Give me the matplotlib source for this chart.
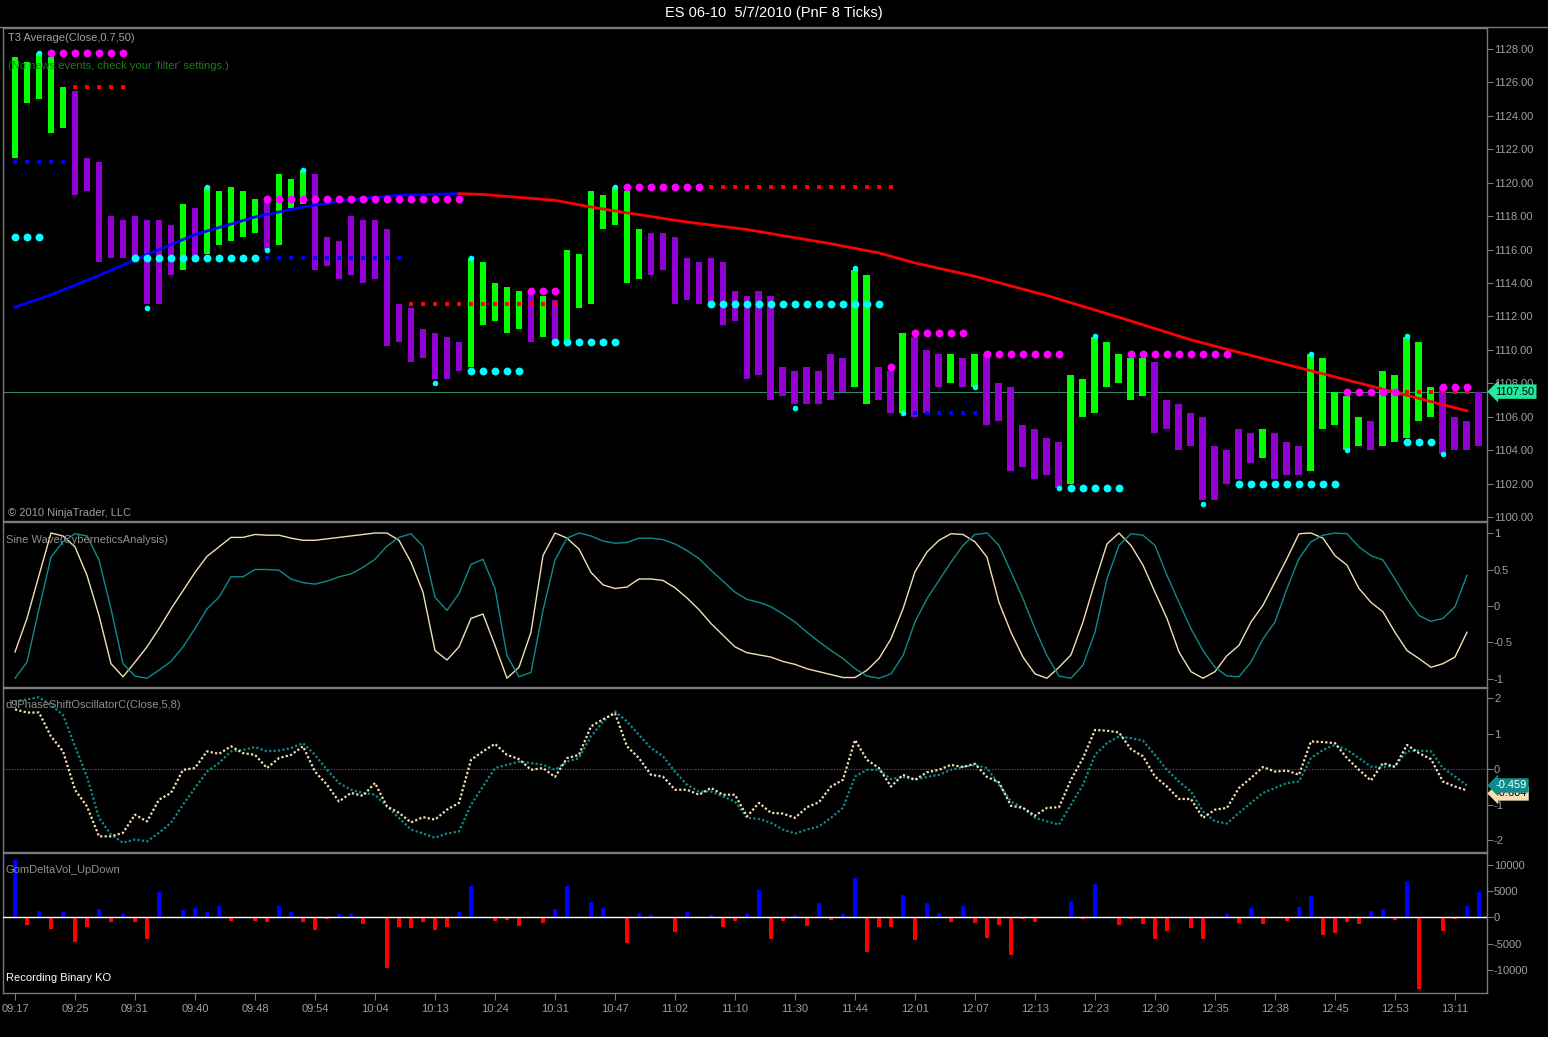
import matplotlib.pyplot as plt
import numpy as np

plt.rcParams['font.family'] = ['Liberation Sans', 'DejaVu Sans']

# ---- данные: PnF колонки (верх / низ, цвет) ----
bar_high = [1127.5, 1127.25, 1127.75, 1127.5, 1125.75, 1125.5, 1121.5, 1121.25, 1118.0, 1117.75,
            1118.0, 1117.75, 1117.75, 1117.5, 1118.75, 1118.5, 1119.75, 1119.5, 1119.75, 1119.5,
            1119.0, 1119.0, 1120.5, 1120.25, 1120.75, 1120.5, 1116.75, 1116.5, 1118.0, 1117.75,
            1117.75, 1117.25, 1112.75, 1112.5, 1111.25, 1111.0, 1110.75, 1110.5, 1115.5, 1115.25,
            1114.0, 1113.75, 1113.5, 1113.5, 1113.25, 1113.0, 1116.0, 1115.75, 1119.5, 1119.25,
            1119.75, 1119.5, 1117.25, 1117.0, 1117.0, 1116.75, 1115.5, 1115.25, 1115.5, 1115.25,
            1113.5, 1113.25, 1113.5, 1113.25, 1109.0, 1108.75, 1109.0, 1108.75, 1109.75, 1109.5,
            1114.75, 1114.5, 1109.0, 1108.75, 1111.0, 1110.75, 1110.0, 1109.75, 1109.75, 1109.5,
            1109.75, 1109.75, 1108.0, 1107.75, 1105.5, 1105.25, 1104.75, 1104.5, 1108.5, 1108.25,
            1110.75, 1110.5, 1109.75, 1109.5, 1109.5, 1109.25, 1107.0, 1106.75, 1106.25, 1106.0,
            1104.25, 1104.0, 1105.25, 1105.0, 1105.25, 1105.0, 1104.5, 1104.25, 1109.75, 1109.5,
            1107.5, 1107.25, 1106.0, 1105.75, 1108.75, 1108.5, 1110.75, 1110.5, 1107.75, 1107.75,
            1106.0, 1105.75, 1107.5]
bar_low = [1121.5, 1124.75, 1125.0, 1123.0, 1123.25, 1119.25, 1119.5, 1115.25, 1115.5, 1115.5,
           1115.5, 1112.75, 1112.75, 1114.5, 1114.75, 1115.25, 1115.75, 1116.25, 1116.5, 1116.75,
           1117.0, 1116.0, 1116.25, 1118.5, 1118.75, 1114.75, 1115.0, 1114.25, 1114.5, 1114.0,
           1114.25, 1110.25, 1110.5, 1109.25, 1109.5, 1108.25, 1108.25, 1108.75, 1109.0, 1111.5,
           1111.75, 1111.0, 1111.25, 1110.5, 1110.75, 1110.5, 1110.5, 1112.5, 1112.75, 1117.25,
           1117.5, 1114.0, 1114.25, 1114.5, 1114.75, 1112.75, 1113.0, 1112.75, 1112.75, 1111.5,
           1111.75, 1108.25, 1108.5, 1107.0, 1107.25, 1106.75, 1106.75, 1106.75, 1107.0, 1107.5,
           1107.75, 1106.75, 1107.0, 1106.25, 1106.25, 1106.0, 1106.25, 1107.75, 1108.0, 1107.75,
           1107.75, 1105.5, 1105.75, 1102.75, 1103.0, 1102.25, 1102.5, 1101.75, 1102.0, 1106.0,
           1106.25, 1107.75, 1108.0, 1107.0, 1107.25, 1105.0, 1105.25, 1104.0, 1104.25, 1101.0,
           1101.0, 1102.0, 1102.25, 1103.25, 1103.5, 1102.25, 1102.5, 1102.5, 1102.75, 1105.25,
           1105.5, 1104.0, 1104.25, 1104.0, 1104.25, 1104.5, 1104.75, 1105.75, 1106.0, 1103.75,
           1104.0, 1104.0, 1104.25]
# G = рост (зелёный), P = падение (фиолетовый)
bar_dir = ("GGGGG" "PPPPPPPPP" "G" "P" "GGGGG" "P" "GGG" "PPPPPPPPPPPPP" "GGGGG" "P" "G" "P"
           "GGGGGGG" "PPPPPPPPPPPPPPPPP" "GG" "PP" "G" "PPP" "G" "P" "G" "PPPPPPP" "GGGGGGG"
           "PPPPPPPPP" "G" "PPP" "GGGGG" "P" "GGGGG" "PPPP")
last_price = 1107.5

# T3 Average: точки (номер колонки, значение)
t3_blue_bar = [0, 3, 7, 11, 15, 20, 24, 28, 32, 37]
t3_blue_val = [1112.55, 1113.3, 1114.45, 1115.7, 1116.9, 1117.95, 1118.55, 1119.0, 1119.25, 1119.35]
t3_red_bar = [37, 39, 45, 48, 51, 56, 61, 68, 72, 75, 80, 86, 92, 98, 102, 108, 114, 121]
t3_red_val = [1119.35, 1119.3, 1118.95, 1118.55, 1118.2, 1117.65, 1117.2, 1116.35, 1115.8, 1115.2,
              1114.4, 1113.25, 1111.95, 1110.6, 1109.85, 1108.75, 1107.65, 1106.35]

# уровни точек (первая колонка, последняя колонка, цена)
magenta_levels = [(3, 9, 1127.75), (21, 37, 1119.0), (43, 45, 1113.5), (51, 57, 1119.75), (73, 73, 1109.0),
                  (75, 79, 1111.0), (81, 87, 1109.75), (93, 101, 1109.75), (111, 115, 1107.5), (119, 121, 1107.75)]
cyan_levels = [(0, 2, 1116.75), (10, 20, 1115.5), (38, 42, 1108.75), (45, 50, 1110.5), (58, 72, 1112.75),
               (88, 92, 1101.75), (102, 110, 1102.0), (116, 118, 1104.5)]
red_dotted = [(5, 9, 1125.75), (33, 45, 1112.75), (58, 73, 1119.75), (116, 121, 1107.5)]
blue_dotted = [(0, 4, 1121.25), (21, 32, 1115.5), (75, 80, 1106.25)]
small_cyan_bar = [2, 11, 16, 21, 24, 35, 38, 50, 65, 70, 74, 80, 87, 90, 99, 108, 111, 116, 119]
small_cyan_val = [1127.75, 1112.5, 1119.75, 1116.0, 1120.75, 1108.0, 1115.5, 1119.75, 1106.5, 1114.9,
                  1106.25, 1107.75, 1101.75, 1110.85, 1100.75, 1109.75, 1104.0, 1110.85, 1103.75]

# Sine Wave
sine = [-0.63, -0.17, 0.42, 1.0, 0.96, 0.81, 0.42, -0.13, -0.79, -0.97,
        -0.77, -0.56, -0.31, -0.04, 0.21, 0.46, 0.68, 0.81, 0.94, 0.94,
        0.98, 0.97, 0.97, 0.93, 0.90, 0.90, 0.92, 0.94, 0.96, 0.98,
        1.0, 1.0, 0.90, 0.60, 0.19, -0.61, -0.74, -0.56, -0.17, -0.11,
        -0.54, -0.99, -0.84, -0.36, 0.69, 1.0, 0.93, 0.78, 0.46, 0.29,
        0.24, 0.26, 0.37, 0.37, 0.35, 0.25, 0.11, -0.05, -0.24, -0.40,
        -0.56, -0.64, -0.67, -0.70, -0.76, -0.80, -0.86, -0.90, -0.94, -0.98,
        -0.98, -0.88, -0.72, -0.45, -0.04, 0.47, 0.74, 0.90, 0.99, 0.98,
        0.88, 0.67, 0.05, -0.36, -0.70, -0.93, -0.99, -0.84, -0.67, -0.22,
        0.33, 0.85, 1.0, 0.83, 0.56, 0.19, -0.17, -0.63, -0.90, -0.99,
        -0.90, -0.68, -0.54, -0.22, 0.01, 0.33, 0.65, 0.99, 1.0, 0.93,
        0.69, 0.56, 0.24, 0.05, -0.08, -0.36, -0.61, -0.72, -0.84, -0.79,
        -0.70, -0.36]
lead_sine = [-0.99, -0.77, -0.04, 0.67, 0.88, 0.99, 0.96, 0.63, -0.04, -0.79,
             -0.96, -0.99, -0.88, -0.76, -0.56, -0.31, -0.04, 0.12, 0.40, 0.40,
             0.50, 0.50, 0.49, 0.37, 0.32, 0.30, 0.34, 0.40, 0.44, 0.53,
             0.64, 0.82, 0.94, 0.99, 0.82, 0.12, -0.06, 0.17, 0.57, 0.64,
             0.24, -0.68, -0.97, -0.91, -0.06, 0.63, 0.93, 1.0, 0.96, 0.89,
             0.86, 0.87, 0.93, 0.93, 0.91, 0.85, 0.76, 0.65, 0.49, 0.34,
             0.19, 0.09, 0.05, -0.01, -0.11, -0.22, -0.36, -0.49, -0.61, -0.72,
             -0.86, -0.96, -0.99, -0.93, -0.68, -0.22, 0.10, 0.35, 0.60, 0.83,
             0.98, 1.0, 0.83, 0.47, 0.10, -0.31, -0.68, -0.96, -0.99, -0.81,
             -0.36, 0.37, 0.83, 0.99, 0.97, 0.83, 0.42, 0.05, -0.31, -0.61,
             -0.84, -0.96, -0.97, -0.77, -0.45, -0.22, 0.24, 0.65, 0.88, 0.97,
             1.0, 0.99, 0.81, 0.69, 0.63, 0.37, 0.10, -0.13, -0.21, -0.17,
             -0.01, 0.42]

# d9PhaseShiftOscillator
phase_fast = [1.68, 1.59, 1.59, 0.92, 0.50, -0.58, -1.05, -1.89, -1.89, -1.79,
              -1.28, -1.47, -0.86, -0.67, -0.02, 0.03, 0.50, 0.43, 0.64, 0.45,
              0.40, 0.03, 0.31, 0.40, 0.64, -0.07, -0.44, -0.91, -0.67, -0.75,
              -0.39, -1.05, -1.23, -1.50, -1.35, -1.42, -1.14, -0.95, 0.26, 0.50,
              0.71, 0.40, 0.28, -0.02, 0.03, -0.22, 0.31, 0.40, 1.20, 1.40,
              1.57, 0.64, 0.31, -0.16, -0.21, -0.58, -0.58, -0.72, -0.53, -0.72,
              -0.72, -1.33, -0.95, -1.23, -1.25, -1.37, -1.07, -0.93, -0.49, -0.30,
              0.82, 0.26, 0.03, -0.49, -0.16, -0.30, -0.09, -0.02, 0.12, 0.06,
              0.15, -0.22, -0.37, -1.03, -1.09, -1.31, -1.09, -1.07, -0.30, 0.31,
              1.10, 1.08, 1.03, 0.56, 0.36, -0.21, -0.49, -0.84, -0.84, -1.37,
              -1.14, -1.09, -0.53, -0.25, 0.06, -0.07, -0.04, -0.16, 0.78, 0.76,
              0.73, 0.31, -0.02, -0.32, 0.17, 0.06, 0.68, 0.45, 0.28, -0.35,
              -0.49, -0.60]
phase_slow = [1.90, 1.96, 2.02, 1.80, 1.52, 0.64, -0.21, -1.37, -1.84, -2.07,
              -1.98, -2.03, -1.79, -1.51, -1.00, -0.53, -0.07, 0.17, 0.50, 0.54,
              0.62, 0.50, 0.52, 0.59, 0.73, 0.40, -0.02, -0.39, -0.58, -0.67,
              -0.72, -1.05, -1.37, -1.70, -1.81, -1.93, -1.81, -1.75, -1.00, -0.49,
              0.03, 0.12, 0.21, 0.17, 0.12, -0.02, 0.21, 0.31, 0.92, 1.34,
              1.62, 1.34, 0.96, 0.59, 0.36, -0.07, -0.44, -0.63, -0.63, -0.77,
              -0.91, -1.37, -1.40, -1.51, -1.70, -1.81, -1.70, -1.61, -1.37, -1.09,
              -0.21, -0.02, -0.02, -0.28, -0.22, -0.30, -0.22, -0.16, -0.02, 0.06,
              0.12, 0.03, -0.44, -0.91, -1.09, -1.37, -1.47, -1.56, -1.00, -0.44,
              0.40, 0.73, 0.92, 0.87, 0.80, 0.40, -0.02, -0.35, -0.63, -1.19,
              -1.47, -1.53, -1.23, -0.95, -0.67, -0.53, -0.39, -0.35, 0.31, 0.54,
              0.68, 0.54, 0.31, 0.07, 0.06, 0.09, 0.50, 0.52, 0.50, 0.03,
              -0.21, -0.46]
phase_fast_label = "-0.604"
phase_slow_label = "-0.459"

# GomDeltaVol_UpDown
delta = [10800, -1460, 1200, -2200, 1080, -4620, -1840, 1520, -820, 570,
         -820, -4110, 4870, -190, 1390, 1840, 950, 2150, -700, 0,
         -700, -820, 2220, 950, -820, -2400, -320, 570, 890, -1200,
         -100, -9560, -1770, -2090, -820, -2400, -1770, 1080, 5950, -190,
         -700, -440, -1580, 0, -1080, 1520, 5950, 0, 2980, 1840,
         -190, -4810, 890, 440, -100, -2720, 1010, 0, 440, -1770,
         -630, 630, 5190, -4110, -700, 440, -1650, 2790, -440, 630,
         7530, -6520, -1840, -1840, 4240, -4300, 2790, 890, -820, 2220,
         -1080, -3860, -1460, -7150, -320, -820, 0, 0, 3170, -320,
         6270, 100, -1460, -320, -1270, -4110, -2600, 0, -2090, -4110,
         0, 630, -1080, 1710, -1200, -190, -630, 2030, 4110, -3360,
         -2910, -820, -1200, 1200, 1520, -510, 6650, -13600, 0, -2600,
         -320, 2220, 4750]

time_labels = ["09:17", "09:25", "09:31", "09:40", "09:48", "09:54", "10:04", "10:13", "10:24",
               "10:31", "10:47", "11:02", "11:10", "11:30", "11:44", "12:01", "12:07", "12:13",
               "12:23", "12:30", "12:35", "12:38", "12:45", "12:53", "13:11"]

W, H = 1548, 1037
GRID = '#7a7a7a'
TXT = '#a0a0a0'

fig = plt.figure(figsize=(W / 100, H / 100), dpi=100, facecolor='black')


def panel(top, bottom):
    ax = fig.add_axes([3 / W, 1 - bottom / H, 1484 / W, (bottom - top) / H])
    ax.set_facecolor('black')
    for s in ax.spines.values():
        s.set_color(GRID)
        s.set_linewidth(1)
    ax.yaxis.tick_right()
    ax.tick_params(axis='y', colors=GRID, labelcolor=TXT, labelsize=8, length=4, pad=1)
    ax.tick_params(axis='x', bottom=False, labelbottom=False)
    ax.set_xlim(-1, 122.67)
    return ax


ax1 = panel(28, 521)
ax2 = panel(522, 687)
ax3 = panel(688, 852)
ax4 = panel(853, 993)

n = len(bar_high)
idx = np.arange(n)

# ---- основная панель ----
ax1.axhline(last_price, color='#2e8b66', lw=0.8, zorder=1)
colors = ['#00ff00' if d == 'G' else '#9400d3' for d in bar_dir]
ax1.bar(idx, np.array(bar_high) - np.array(bar_low), bottom=bar_low, width=0.58, color=colors, zorder=2)
ax1.plot(t3_blue_bar, t3_blue_val, color='#0000ff', lw=2, zorder=3)
ax1.plot(t3_red_bar, t3_red_val, color='#ff0000', lw=2, zorder=3)

for a, b, p in red_dotted:
    k = np.arange(a, b + 1)
    ax1.scatter(k, [p] * len(k), s=5, marker='s', color='#ff0000', lw=0, zorder=4)
for a, b, p in blue_dotted:
    k = np.arange(a, b + 1)
    ax1.scatter(k, [p] * len(k), s=5, marker='s', color='#0000ff', lw=0, zorder=4)
for a, b, p in magenta_levels:
    k = np.arange(a, b + 1)
    ax1.scatter(k, [p] * len(k), s=32, color='#ff00ff', lw=0, zorder=5)
for a, b, p in cyan_levels:
    k = np.arange(a, b + 1)
    ax1.scatter(k, [p] * len(k), s=32, color='#00ffff', lw=0, zorder=5)
ax1.scatter(small_cyan_bar, small_cyan_val, s=16, color='#00ffff', lw=0, zorder=5)

ax1.set_ylim(1099.76, 1129.26)
ax1.set_yticks(np.arange(1100, 1129, 2))
ax1.set_yticklabels(['%.2f' % v for v in np.arange(1100, 1129, 2)])
ax1.text(1.0055, last_price, '%.2f' % last_price, transform=ax1.get_yaxis_transform(),
         ha='left', va='center', fontsize=8, color='black', clip_on=False, zorder=10,
         bbox=dict(boxstyle='larrow,pad=0.2', fc='#22e8a0', ec='none'))

# ---- Sine Wave ----
k2 = np.arange(len(sine))
ax2.plot(k2, sine, color='#f5deb3', lw=1)
ax2.plot(k2, lead_sine, color='#0f8b8b', lw=1)
ax2.set_ylim(-1.11, 1.151)
ax2.set_yticks([1, 0.5, 0, -0.5, -1])
ax2.set_yticklabels(['1', '0.5', '0', '-0.5', '-1'])

# ---- Phase shift oscillator ----
k3 = np.arange(len(phase_fast))
ax3.axhline(0, color='#9932cc', lw=0.8, ls=(0, (1, 1.5)))
ax3.plot(k3, phase_slow, color='#0f8b8b', lw=1.6, ls=(0, (1, 1)))
ax3.plot(k3, phase_fast, color='#f5deb3', lw=1.6, ls=(0, (1, 1)))
ax3.set_ylim(-2.33, 2.28)
ax3.set_yticks([2, 1, 0, -1, -2])
ax3.set_yticklabels(['2', '1', '0', '-1', '-2'])
ax3.text(1.0055, float(phase_fast_label) - 0.08, phase_fast_label, transform=ax3.get_yaxis_transform(),
         ha='left', va='center', fontsize=8, color='black', clip_on=False, zorder=10,
         bbox=dict(boxstyle='larrow,pad=0.2', fc='#f5deb3', ec='none'))
ax3.text(1.0055, float(phase_slow_label), phase_slow_label, transform=ax3.get_yaxis_transform(),
         ha='left', va='center', fontsize=8, color='white', clip_on=False, zorder=11,
         bbox=dict(boxstyle='larrow,pad=0.2', fc='#0f8b8b', ec='none'))

# ---- Delta volume ----
dcol = ['#0000ff' if v >= 0 else '#ff0000' for v in delta]
ax4.bar(idx, delta, width=0.26, color=dcol, zorder=2)
ax4.axhline(0, color='white', lw=1, zorder=3)
ax4.set_ylim(-14380, 12210)
ax4.set_yticks([10000, 5000, 0, -5000, -10000])
ax4.set_yticklabels(['10000', '5000', '0', '-5000', '-10000'])
ax4.set_xticks(np.arange(0, 121, 5))
ax4.set_xticklabels(time_labels)
ax4.tick_params(axis='x', bottom=True, labelbottom=True, colors=GRID, labelcolor=TXT,
                labelsize=8, length=5, pad=3)


# ---- подписи ----
def ftext(x, y, s, **kw):
    fig.text(x / W, 1 - y / H, s, va='center', **kw)


fig.add_artist(plt.Line2D([0, 1], [1 - 27 / H, 1 - 27 / H], color=GRID, lw=1))
ftext(W / 2, 13, 'ES 06-10  5/7/2010 (PnF 8 Ticks)', ha='center', color='white', fontsize=10.5)
ftext(8, 38, 'T3 Average(Close,0.7,50)', color=TXT, fontsize=8)
ftext(8, 66, "(No news events, check your 'filter' settings.)", color='#1e7b1e', fontsize=8)
ftext(8, 513, '© 2010 NinjaTrader, LLC', color=TXT, fontsize=8)
ftext(6, 540, 'Sine Wave(CyberneticsAnalysis)', color='#909090', fontsize=8)
ftext(6, 705, 'd9PhaseShiftOscillatorC(Close,5,8)', color='#909090', fontsize=8)
ftext(6, 870, 'GomDeltaVol_UpDown', color='#909090', fontsize=8)
ftext(6, 978, 'Recording Binary KO', color='white', fontsize=8)

fig.savefig('out.png', dpi=100, facecolor='black')
